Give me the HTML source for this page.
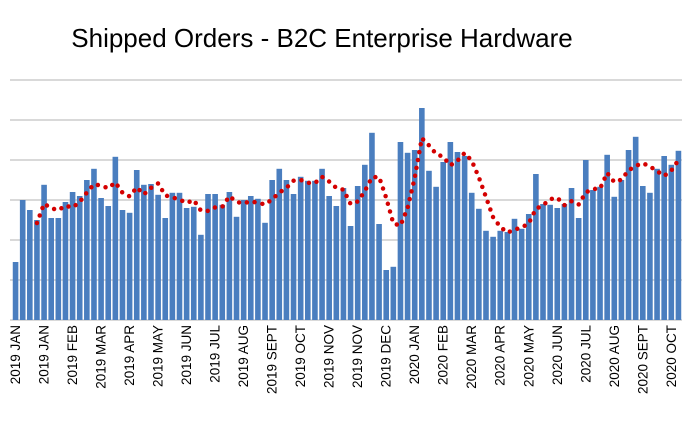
<!DOCTYPE html>
<html><head><meta charset="utf-8"><style>
body{margin:0;background:#fff;width:697px;height:429px;overflow:hidden;font-family:"Liberation Sans",sans-serif}
</style></head><body>
<svg id="chart" width="697" height="429" xmlns="http://www.w3.org/2000/svg">
<text x="322" y="47" text-anchor="middle" font-size="26" fill="#000">Shipped Orders - B2C Enterprise Hardware</text>
<g id="grid"></g><g id="bars"></g><g id="trend"></g><g id="xlabels"></g>
</svg>
<script>
const values=[145,300,275,250,338,255,255,295,320,310,350,378,305,285,408,275,268,375,338,340,313,255,318,318,280,283,213,315,315,288,320,258,
300,310,303,243,350,378,350,315,358,348,348,378,310,285,330,235,335,388,468,240,125,133,445,418,425,530,373,333,395,445,420,410,318,
278,223,208,223,220,253,228,265,365,290,288,280,290,330,255,400,325,333,413,308,350,425,458,335,318,378,410,388,423];
const tickLabels=["2019 JAN","2019 JAN","2019 FEB","2019 MAR","2019 APR","2019 MAY","2019 JUN","2019 JUL","2019 AUG","2019 SEPT","2019 OCT","2019 NOV","2019 NOV","2019 DEC","2020 JAN","2020 FEB","2020 MAR","2020 APR","2020 MAY","2020 JUN","2020 JUL","2020 AUG","2020 SEPT","2020 OCT"];
const gridValues=[0,100,200,300,400,500,600];
const maPeriod=4;
const NS="http://www.w3.org/2000/svg";
const x0=12,x1=682,base=320,pxPer=0.4;
const pitch=(x1-x0)/values.length;
const xs=i=>x0+pitch*i+pitch/2;
const ys=v=>base-v*pxPer;
function mk(t,a){const e=document.createElementNS(NS,t);for(const k in a)e.setAttribute(k,a[k]);return e;}
const g=document.getElementById('grid');
gridValues.forEach(v=>{const l=mk('line',{x1:10,x2:x1,y1:ys(v),y2:ys(v),stroke:'#d9d9d9','stroke-width':2});


g.appendChild(l);});
const b=document.getElementById('bars');
values.forEach((v,i)=>{const r=mk('rect',{x:xs(i)-2.8,y:ys(v),width:5.6,height:v*pxPer,fill:'#4a7ebf'});


b.appendChild(r);});
let pts=[];
for(let i=maPeriod-1;i<values.length;i++){let s=0;for(let j=0;j<maPeriod;j++)s+=values[i-j];pts.push(xs(i)+','+ys(s/maPeriod));}
const pl=mk('polyline',{points:pts.join(' '),fill:'none',stroke:'#d40000','stroke-width':4.5,'stroke-linecap':'round','stroke-dasharray':'0 8'});


document.getElementById('trend').appendChild(pl);
const xl=document.getElementById('xlabels');
tickLabels.forEach((t,i)=>{const x=xs(i*4)+4.5;const e=mk('text',{x:0,y:0,transform:`translate(${x},325) rotate(-90)`,'text-anchor':'end','font-size':13.5,fill:'#000'});
e.textContent=t;


xl.appendChild(e);});
</script>
</body></html>
